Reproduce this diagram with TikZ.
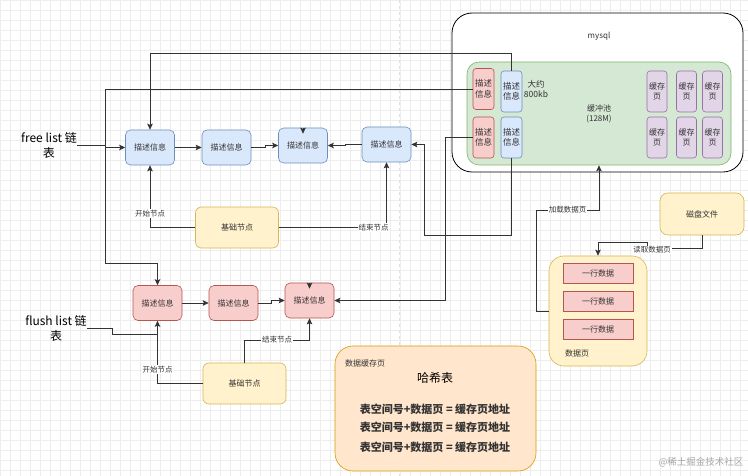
\documentclass[tikz,border=0pt]{standalone}
\usepackage{fontspec}
\setmainfont{Noto Sans CJK SC}
\usetikzlibrary{arrows.meta}
\definecolor{bfill}{HTML}{DAE8FC}\definecolor{bline}{HTML}{6C8EBF}
\definecolor{rfill}{HTML}{F8CECC}\definecolor{rline}{HTML}{B85450}
\definecolor{yfill}{HTML}{FFF2CC}\definecolor{yline}{HTML}{D6B656}
\definecolor{gfill}{HTML}{D5E8D4}\definecolor{gline}{HTML}{82B366}
\definecolor{pfill}{HTML}{E1D5E7}\definecolor{pline}{HTML}{9673A6}
\definecolor{ofill}{HTML}{FFE6CC}\definecolor{oline}{HTML}{D79B00}
\definecolor{ink}{HTML}{333333}
\definecolor{gridc}{HTML}{EDEDED}
\begin{document}
\begin{tikzpicture}[x=1pt,y=-1pt,
  box/.style={draw, line width=0.6pt, rounded corners=5pt, align=center, inner sep=0pt, text=ink, font=\fontsize{8}{10}\selectfont},
  bdesc/.style={box, fill=bfill, draw=bline, minimum width=49pt, minimum height=35pt},
  rdesc/.style={box, fill=rfill, draw=rline, minimum width=49pt, minimum height=35pt},
  bsm/.style={box, fill=bfill, draw=bline, rounded corners=3pt, minimum width=21pt, minimum height=41pt, font=\fontsize{8.5}{10.5}\selectfont},
  rsm/.style={box, fill=rfill, draw=rline, rounded corners=3pt, minimum width=21pt, minimum height=41pt, font=\fontsize{8.5}{10.5}\selectfont},
  page/.style={box, fill=pfill, draw=pline, rounded corners=3pt, minimum width=20pt, minimum height=41pt, font=\fontsize{8}{10.5}\selectfont},
  ybox/.style={box, fill=yfill, draw=yline, rounded corners=6pt, minimum width=83pt, minimum height=41pt},
  rowbox/.style={box, fill=rfill, draw=rline, rounded corners=0pt, minimum width=70pt, minimum height=20pt},
  txt/.style={text=ink, align=center, inner sep=0pt, font=\fontsize{8}{10}\selectfont},
  big/.style={text=black, align=center, inner sep=0pt, font=\fontsize{12}{15}\selectfont},
  hline/.style={text=ink, align=center, inner sep=0pt, font=\bfseries\fontsize{11}{13}\selectfont},
  lbl/.style={text=ink, fill=white, inner sep=1pt, font=\fontsize{7.5}{9}\selectfont},
  con/.style={draw=ink, line width=0.8pt},
  arr/.style={con, -{Stealth[length=6pt,width=5.5pt,inset=1.2pt]}}]
\useasboundingbox (0,0) rectangle (748,476);
\fill[white] (0,0) rectangle (748,476);
\draw[gridc, line width=0.4pt, step=10pt] (0,0) grid (748,476);
\draw[black!12, dashed, line width=0.4pt] (399,0) -- (399,476);

% mysql
\node[draw=black, fill=white, line width=0.8pt, rounded corners=20pt, minimum width=291pt, minimum height=159pt] (mysql) at (597.5,92.5) {};
\node[txt] (mysqlt) at (599,36) {mysql};
\node[box, fill=gfill, draw=gline, rounded corners=12pt, minimum width=264pt, minimum height=103pt] (pool) at (599,113.5) {缓冲池\\(128M)};
\node[rsm] (pr1) at (483.5,89) {描述\\信息};
\node[rsm] (pr2) at (483.5,137.5) {描述\\信息};
\node[bsm] (pb1) at (511.5,91.5) {描述\\信息};
\node[bsm] (pb2) at (511.5,137.5) {描述\\信息};
\node[txt, font=\fontsize{8.5}{10.5}\selectfont] (sz) at (536,89) {大约\\800kb};
\node[page] (c1) at (657,91.5) {缓存\\页};
\node[page] (c2) at (686.5,91.5) {缓存\\页};
\node[page] (c3) at (712.5,91.5) {缓存\\页};
\node[page] (c4) at (657,137.5) {缓存\\页};
\node[page] (c5) at (686.5,137.5) {缓存\\页};
\node[page] (c6) at (712.5,137.5) {缓存\\页};

% free list
\node[big] (fr) at (49,145) {free list 链\\表};
\node[bdesc] (B1) at (150,147.5) {描述信息};
\node[bdesc] (B2) at (226.5,147.5) {描述信息};
\node[bdesc] (B3) at (303,145.5) {描述信息};
\node[bdesc] (B4) at (386.5,144.5) {描述信息};
\node[ybox] (fb) at (237,227.5) {基础节点};

% flush list
\node[big] (fl) at (56,328) {flush list 链\\表};
\node[rdesc] (R1) at (157.5,303) {描述信息};
\node[rdesc] (R2) at (233.5,303) {描述信息};
\node[rdesc] (R3) at (309.5,300.5) {描述信息};
\node[ybox] (rb) at (244.5,383.5) {基础节点};

% data page and disk
\node[ybox, rounded corners=15pt, minimum width=98pt, minimum height=110pt] (dp) at (598,311) {};
\node[rowbox] (row1) at (598,273) {一行数据};
\node[rowbox] (row2) at (598,301) {一行数据};
\node[rowbox] (row3) at (598,329) {一行数据};
\node[txt] (dpt) at (577,353) {数据页};
\node[ybox, rounded corners=8pt, minimum width=84pt, minimum height=42pt] (disk) at (702,214) {磁盘文件};

% hash table
\node[box, fill=ofill, draw=oline, rounded corners=18pt, minimum width=201pt, minimum height=125pt] (hash) at (435.5,408.5) {};
\node[txt] (hcap) at (365,363) {数据缓存页};
\node[big] (htitle) at (435,378) {哈希表};
\node[hline] (h1) at (435,409) {表空间号+数据页 = 缓存页地址};
\node[hline] (h2) at (435,427) {表空间号+数据页 = 缓存页地址};
\node[hline] (h3) at (435,447) {表空间号+数据页 = 缓存页地址};

\node[text=black!35, inner sep=0pt, font=\fontsize{9.5}{11}\selectfont] (wm) at (701,462) {@稀土掘金技术社区};

% connectors free list
\draw[arr] (fr.east) -- (105,145) -- (105,147.5) -- (B1.west);
\draw[arr] (B1.east) -- (B2.west);
\draw[arr] (B2.east) -- (265,147.5) -- (265,145.5) -- (B3.west);
\draw[arr] (B4.west) -- (345,144.5) |- (B3.east);
\draw[arr] (B3.north) -- ++(0,6);
\draw[arr] (fb.west) -| node[lbl, pos=0.61] {开始节点} (B1.south);
\draw[arr] (fb.east) -| node[lbl, pos=0.44] {结束节点} (B4.south);
\draw[arr] (pb1.north) -- ++(0,-17) -| (B1.north);
\draw[arr] (pb2.south) |- (424,235) |- (B4.east);

% connectors flush list
\draw[con] (fl.east) -- (112,328) -- (112,334) -- (157.5,334);
\draw[arr] (R1.east) -- (R2.west);
\draw[arr] (R2.east) -- (271,303) -- (271,300.5) -- (R3.west);
\draw[arr] (R3.north) -- ++(0,6);
\draw[arr] (rb.west) -| node[lbl, pos=0.61] {开始节点} (R1.south);
\draw[arr] (rb.north) -- (244.5,340) -| node[lbl, pos=0.25] {结束节点} (R3.south);
\draw[arr] (pr1.west) -| (105,263) -| (R1.north);
\draw[arr] (pr2.west) -- (445,137.5) |- (R3.east);

% data page connectors
\draw[arr] (dp.west) -- (536,311) -- (536,210) -| node[lbl, pos=0.25] {加载数据页} (pool.south);
\draw[arr] (disk.south) |- (647,248) -- (647,242) -| (dp.north);
\node[lbl] (rdl) at (652,250) {读取数据页};
\end{tikzpicture}
\end{document}
